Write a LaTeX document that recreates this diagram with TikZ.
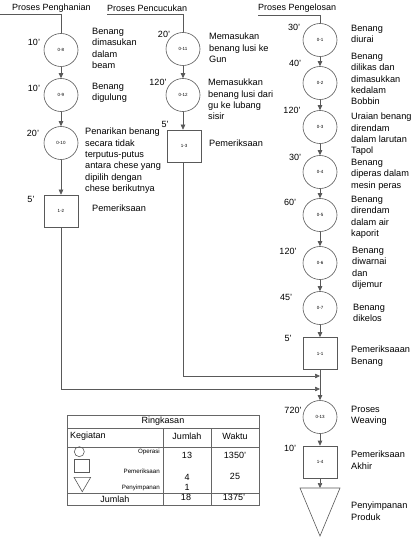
\documentclass[tikz,border=0pt]{standalone}
\usepackage{fontspec}
\setmainfont{Liberation Sans}
\usetikzlibrary{arrows.meta,shapes.geometric}
\begin{document}
\begin{tikzpicture}[x=1pt,y=-1pt,
  line/.style={draw=black!65, line width=0.6pt},
  op/.style={ellipse, draw=black!65, line width=0.6pt, minimum width=34pt, minimum height=33pt, inner sep=0pt, font=\fontsize{4.5}{5}\selectfont},
  insp/.style={rectangle, draw=black!65, line width=0.6pt, minimum width=34pt, minimum height=32pt, inner sep=0pt, font=\fontsize{4.5}{5}\selectfont},
  arr/.style={line, -{Triangle[length=5pt,width=4.5pt]}},
  desc/.style={anchor=north west, inner sep=0pt, align=left, font=\fontsize{9.2}{11.3}\selectfont},
  tlab/.style={inner sep=0pt, font=\fontsize{9}{11}\selectfont},
  hdr/.style={anchor=west, inner sep=0pt, font=\fontsize{9}{11}\selectfont},
  tbl/.style={draw=black!60, line width=0.8pt},
  ttxt/.style={inner sep=0pt, font=\fontsize{9}{11}\selectfont},
  tsmall/.style={inner sep=0pt, anchor=east, font=\fontsize{6.2}{7}\selectfont},
]
\useasboundingbox (0,0) rectangle (413,537);

% ---------- headers ----------
\node[hdr] (h1) at (12,8) {Proses Penghanian};
\node[hdr] (h2) at (107,8) {Proses Pencucukan};
\node[hdr] (h3) at (258,8) {Proses Pengelosan};

% ---------- left column ----------
\node[op] (o8) at (61,50) {0-8};
\node[op] (o9) at (61,95) {0-9};
\node[op] (o10) at (61,143) {0-10};
\node[insp] (i2) at (61,211) {1-2};

\node[tlab] (t8) at (34,42) {10'};
\node[tlab] (t9) at (34,88) {10'};
\node[tlab] (t10) at (33,133) {20'};
\node[tlab] (t12) at (31,199) {5'};

\node[desc] (d8) at (92,28) {Benang\\dimasukan\\dalam\\beam};
\node[desc] (d9) at (92,83) {Benang\\digulung};
\node[desc] (d10) at (85,128) {Penarikan benang\\secara tidak\\terputus-putus\\antara chese yang\\dipilih dengan\\chese berikutnya};
\node[desc] (d12) at (92,205) {Pemeriksaan};

% ---------- middle column ----------
\node[op] (o11) at (183,49) {0-11};
\node[op] (o12) at (183,95) {0-12};
\node[insp] (i3) at (184,146) {1-3};

\node[tlab] (t11) at (164,34) {20'};
\node[tlab] (t120) at (158,82) {120'};
\node[tlab] (t13) at (165,124) {5'};

\node[desc] (d11) at (209,33) {Memasukan\\benang lusi ke\\Gun};
\node[desc] (d120) at (208,79) {Memasukkan\\benang lusi dari\\gu ke lubang\\sisir};
\node[desc] (d13) at (209,140) {Pemeriksaan};

% ---------- right column ----------
\node[op] (o1) at (320,40) {0-1};
\node[op] (o2) at (320,83) {0-2};
\node[op] (o3) at (320,127) {0-3};
\node[op] (o4) at (320,172) {0-4};
\node[op] (o5) at (320,215) {0-5};
\node[op] (o6) at (320,263) {0-6};
\node[op] (o7) at (320,308) {0-7};
\node[insp] (i1) at (320,353.5) {1-1};
\node[op] (o13) at (320,417) {0-13};
\node[insp] (i4) at (320,462) {1-4};
\coordinate (s1) at (320,488);
\draw[line] (300,488) -- (340,488) -- (320,536) -- cycle;

\node[tlab] (r1) at (294,27) {30'};
\node[tlab] (r2) at (295,63) {40'};
\node[tlab] (r3) at (292,110) {120'};
\node[tlab] (r4) at (295,157) {30'};
\node[tlab] (r5) at (290,202) {60'};
\node[tlab] (r6) at (288,251) {120'};
\node[tlab] (r7) at (286,297) {45'};
\node[tlab] (r8) at (288,338) {5'};
\node[tlab] (r9) at (293,410) {720'};
\node[tlab] (r10) at (290,448) {10'};

\node[desc] (e1) at (351,25) {Benang\\diurai};
\node[desc] (e2) at (351,53) {Benang\\dilikas dan\\dimasukkan\\kedalam\\Bobbin};
\node[desc] (e3) at (351,113) {Uraian benang\\direndam\\dalam larutan\\Tapol};
\node[desc] (e4) at (351,159) {Benang\\diperas dalam\\mesin peras};
\node[desc] (e5) at (351,196) {Benang\\direndam\\dalam air\\kaporit};
\node[desc] (e6) at (352,247) {Benang\\diwarnai\\dan\\dijemur};
\node[desc] (e7) at (353,304) {Benang\\dikelos};
\node[desc] (e8) at (351,346) {Pemeriksaaan\\Benang};
\node[desc] (e9) at (351,406) {Proses\\Weaving};
\node[desc] (e10) at (351,451) {Pemeriksaan\\Akhir};
\node[desc] (e11) at (351,502) {Penyimpanan\\Produk};

% ---------- connectors ----------
\draw[line] (0,14) -- (61,14) -- (o8);
\draw[line] (107,14) -- (183,14) -- (o11);
\draw[line] (258,15) -- (320,15) -- (o1);

\draw[arr] (o8) -- (o9);
\draw[arr] (o9) -- (o10);
\draw[arr] (o10) -- (i2);

\draw[arr] (o11) -- (o12);
\draw[arr] (o12) -- (i3.north -| o12);

\draw[arr] (o1) -- (o2);
\draw[arr] (o2) -- (o3);
\draw[arr] (o3) -- (o4);
\draw[arr] (o4) -- (o5);
\draw[arr] (o5) -- (o6);
\draw[arr] (o6) -- (o7);
\draw[arr] (o7) -- (i1);

\coordinate (m1) at (320,376);
\coordinate (m2) at (320,389);
\draw[arr] (i3.south -| o12) |- (m1);
\draw[arr] (i2.south) |- (m2);
\draw[arr] (i1) -- (o13);
\draw[arr] (o13) -- (i4);
\draw[arr] (i4) -- (s1);

% ---------- summary table ----------
\draw[tbl] (67,415) rectangle (259,505);
\draw[tbl] (67,428) -- (259,428);
\draw[tbl] (67,447) -- (259,447);
\draw[tbl] (67,493) -- (259,493);
\draw[tbl] (163,428) -- (163,505);
\draw[tbl] (211,428) -- (211,505);

\node[ttxt] (ring) at (163,421) {Ringkasan};
\node[ttxt, anchor=west] (keg) at (70,436) {Kegiatan};
\node[ttxt] (jml) at (187,436) {Jumlah};
\node[ttxt] (wkt) at (235,436) {Waktu};

\draw[line] (79.3,451.7) circle (5);
\draw[line] (74,459.3) rectangle (89.3,472.7);
\draw[line] (74,477.3) -- (90.7,477.3) -- (82.3,491.7) -- cycle;

\node[tsmall] (lop) at (160,451.7) {Operasi};
\node[tsmall] (lpm) at (160,471) {Pemeriksaan};
\node[tsmall] (lps) at (160,487.7) {Penyimpanan};

\node[ttxt] (n13) at (187,455) {13};
\node[ttxt] (w1350) at (235,455) {1350'};
\node[ttxt] (n4) at (187,477) {4};
\node[ttxt] (w25) at (235,476) {25};
\node[ttxt] (n1) at (187,487.5) {1};
\node[ttxt] (jm) at (115,499) {Jumlah};
\node[ttxt] (n18) at (186,497.5) {18};
\node[ttxt] (w1375) at (234,497.5) {1375'};
\end{tikzpicture}
\end{document}
